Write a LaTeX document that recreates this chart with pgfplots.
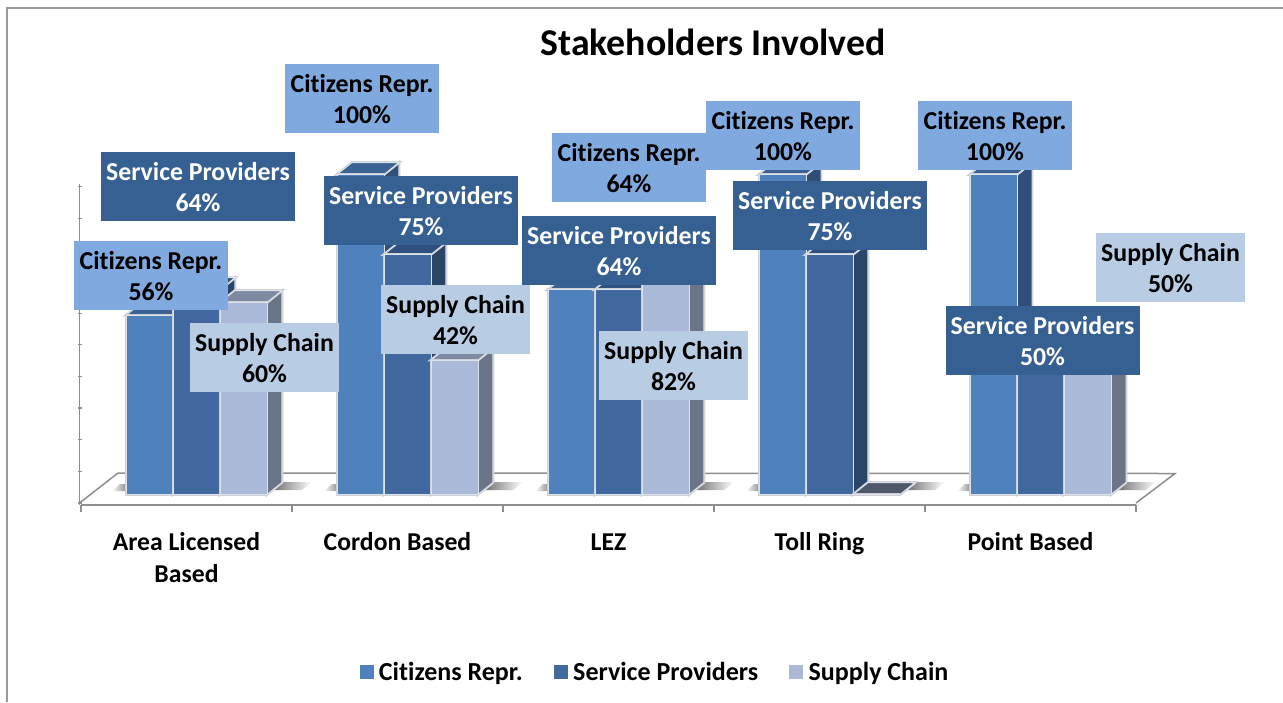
\documentclass[border=0pt]{standalone}
\usepackage{fontspec}
\setmainfont{Carlito}[Ligatures=NoCommon]
\usepackage{pgfplots}
\pgfplotsset{compat=1.18}
\definecolor{citF}{HTML}{4F81BD}
\definecolor{citT}{HTML}{3A6292}
\definecolor{citS}{HTML}{2F4F78}
\definecolor{serF}{HTML}{41699F}
\definecolor{serT}{HTML}{2F5080}
\definecolor{serS}{HTML}{2A4568}
\definecolor{supF}{HTML}{AAB9D7}
\definecolor{supT}{HTML}{7D8AA2}
\definecolor{supS}{HTML}{6B7587}
\definecolor{zeroT}{HTML}{4F586B}
\definecolor{labC}{HTML}{7FA9DF}
\definecolor{labS}{HTML}{366092}
\definecolor{labP}{HTML}{B8CCE4}
\definecolor{edge}{HTML}{DDE3EB}
\definecolor{halo}{HTML}{CDD0D5}
\definecolor{axl}{HTML}{8E8E8E}
% i = category, k = series, v = percent, then front/top/side colours
\newcommand\threeDbar[6]{%
  \pgfmathsetmacro\xl{#1+(10+(#2-1.5)*47)/211}%
  \pgfmathsetmacro\xr{\xl+47/211}%
  \pgfmathsetmacro\xc{\xl+23.5/211}%
  \pgfmathsetmacro\dx{15/211}%
  \pgfmathsetmacro\xlb{\xl+\dx}%
  \pgfmathsetmacro\xrb{\xr+\dx}%
  \pgfmathsetmacro\vb{#3+3.75}%
  \addplot[forget plot,fill=#6,draw=edge,line width=1pt,preaction={draw=halo,line width=2.6pt}] coordinates {(\xr,0) (\xrb,3.75) (\xrb,\vb) (\xr,#3)} --cycle;
  \addplot[forget plot,fill=#5,draw=edge,line width=1pt,preaction={draw=halo,line width=2.6pt}] coordinates {(\xl,#3) (\xlb,\vb) (\xrb,\vb) (\xr,#3)} --cycle;
  \addplot[forget plot,ybar,bar width=47pt,bar shift=0pt,fill=#4,draw=edge,line width=1pt,preaction={draw=halo,line width=2.6pt}] coordinates {(\xc,#3)};
}
\newcommand\lab[6]{% cx cy width fill textcolour name/pct
  \fill[#4] ({#1-#3/2},{-#2-34.5}) rectangle ({#1+#3/2},{-#2+34.5});
  \node[text=#5,inner sep=0pt,align=center,
        font=\fontsize{25.8}{31}\selectfont\bfseries] at (#1,{-#2-1}) {#6};}
\begin{document}
\begin{tikzpicture}[x=1pt,y=1pt]
\useasboundingbox (0,0) rectangle (1283,-702);
% frame
\draw[color=axl!90,line width=2pt] (7,-702) -- (7,-8) -- (1283,-8);
% floor
\draw[axl,line width=1.5pt] (79.5,-503) -- (118,-473) -- (1175,-473.5) -- (1136,-503);
\foreach \xs in {282,493,704,915,1126}{
  \shade[left color=black!58,right color=white,draw=none] (\xs-10,-490) -- (\xs,-482) -- (\xs+30,-482) -- (\xs+20,-490) --cycle;
}
\foreach \xs in {126,338,549,760,971}{
  \shade[right color=black!45,left color=white,draw=none] (\xs-14,-491) -- (\xs-6,-484) -- (\xs,-484) -- (\xs,-491) --cycle;
}
\begin{axis}[
  at={(81pt,-505pt)},anchor=south west,
  scale only axis,width=1055pt,height=321pt,
  xmin=-0.5,xmax=4.5,ymin=-3.28,ymax=97.03,
  clip=false,
  axis x line*=bottom,axis y line*=left,
  axis y line shift=1.5pt,
  axis line style={axl,line width=1.5pt,-},
  xtick={0,1,2,3,4},
  xticklabels={{\strut Area Licensed\\Based},{\strut Cordon Based},{\strut LEZ},{\strut Toll Ring},{\strut Point Based}},
  xticklabel style={anchor=north,align=center,font=\fontsize{25.7}{32}\selectfont\bfseries,text=black,yshift=-16pt},
  minor xtick={-0.5,0.5,1.5,2.5,3.5,4.5},
  major x tick style={draw=none},
  minor x tick style={axl,line width=1.2pt},
  minor tick length=7pt,
  tick align=outside,
  ytick={-2.66,7.23,17.12,27.01,36.9,46.79,56.68,66.57,76.46,86.35,96.24},
  yticklabels={},
  y tick style={axl,line width=1.2pt,xshift=2pt},
  major tick length=4pt,
  legend style={at={(0.544,-0.52)},anchor=center,draw=none,fill=none,
     font=\fontsize{26}{30}\selectfont\bfseries,legend columns=3,
     /tikz/every odd column/.append style={column sep=4pt},
     /tikz/every even column/.append style={column sep=29pt}},
  legend cell align=left,
  legend image code/.code={\fill[#1] (0pt,-6.5pt) rectangle (13pt,6.5pt);},
]
\addlegendimage{citF}\addlegendentry{Citizens Repr.}
\addlegendimage{serF}\addlegendentry{Service Providers}
\addlegendimage{supF}\addlegendentry{Supply Chain}
% Area Licensed Based
\threeDbar{0}{0}{56}{citF}{citT}{citS}
\threeDbar{0}{1}{64}{serF}{serT}{serS}
\threeDbar{0}{2}{60}{supF}{supT}{supS}
% Cordon Based
\threeDbar{1}{0}{100}{citF}{citT}{citS}
\threeDbar{1}{1}{75}{serF}{serT}{serS}
\threeDbar{1}{2}{42}{supF}{supT}{supS}
% LEZ
\threeDbar{2}{0}{64}{citF}{citT}{citS}
\threeDbar{2}{1}{64}{serF}{serT}{serS}
\threeDbar{2}{2}{82}{supF}{supT}{supS}
% Toll Ring
\threeDbar{3}{0}{100}{citF}{citT}{citS}
\threeDbar{3}{1}{75}{serF}{serT}{serS}
\threeDbar{3}{2}{0}{supF}{zeroT}{supS}
% Point Based
\threeDbar{4}{0}{100}{citF}{citT}{citS}
\threeDbar{4}{1}{50}{serF}{serT}{serS}
\threeDbar{4}{2}{50}{supF}{supT}{supS}
\end{axis}
% title
\node[font=\fontsize{37.8}{40}\selectfont\bfseries] at (713,-42) {Stakeholders Involved};
% data labels
\lab{198}{186.5}{194}{labS}{white}{Service Providers\\64\%}
\lab{151}{275.5}{154}{labC}{black}{Citizens Repr.\\56\%}
\lab{264.5}{357.5}{149}{labP}{black}{Supply Chain\\60\%}
\lab{362}{98.5}{154}{labC}{black}{Citizens Repr.\\100\%}
\lab{421}{210.5}{194}{labS}{white}{Service Providers\\75\%}
\lab{455.5}{319.5}{149}{labP}{black}{Supply Chain\\42\%}
\lab{629}{167.5}{154}{labC}{black}{Citizens Repr.\\64\%}
\lab{619}{250.5}{194}{labS}{white}{Service Providers\\64\%}
\lab{673.5}{365.5}{149}{labP}{black}{Supply Chain\\82\%}
\lab{783}{135.5}{154}{labC}{black}{Citizens Repr.\\100\%}
\lab{830}{215.5}{194}{labS}{white}{Service Providers\\75\%}
\lab{995}{135.5}{154}{labC}{black}{Citizens Repr.\\100\%}
\lab{1042.5}{340.5}{194}{labS}{white}{Service Providers\\50\%}
\lab{1170.5}{267.5}{149}{labP}{black}{Supply Chain\\50\%}
\end{tikzpicture}
\end{document}
